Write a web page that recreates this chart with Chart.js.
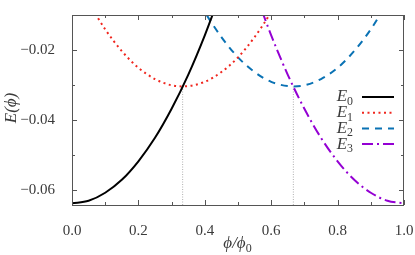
<!DOCTYPE html>
<html>
<head>
<meta charset="utf-8">
<script src="https://cdn.jsdelivr.net/npm/chart.js@4.4.1/dist/chart.umd.min.js"></script>
<style>
  html, body { margin: 0; padding: 0; background: #fff; }
  #wrap { width: 415px; height: 255px; }
</style>
</head>
<body>
<div id="wrap"><canvas id="chart"></canvas></div>
<script>
// values
const phiE0 = [0, 0.05, 0.1, 0.15, 0.2, 0.25, 0.3, 0.35, 0.4, 0.45];
const valE0 = [-0.0638, -0.0631, -0.0608, -0.0571, -0.0518, -0.0451, -0.0368, -0.0271, -0.0158, -0.0031];

const phiE1 = [0, 0.05, 0.1, 0.15, 0.2, 0.25, 0.3, 0.3333, 0.4, 0.45, 0.5, 0.55, 0.6, 0.65];
const valE1 = [0.0029, -0.0063, -0.0141, -0.0203, -0.0251, -0.0283, -0.0301, -0.0304, -0.0291, -0.0263, -0.0221, -0.0163, -0.0091, -0.0003];

const phiE2 = [0.35, 0.4, 0.45, 0.5, 0.55, 0.6, 0.6667, 0.7, 0.75, 0.8, 0.85, 0.9, 0.95, 1.0];
const valE2 = [-0.0003, -0.0091, -0.0163, -0.0221, -0.0263, -0.0291, -0.0304, -0.0301, -0.0283, -0.0251, -0.0203, -0.0141, -0.0063, 0.0029];

const phiE3 = [0.55, 0.6, 0.65, 0.7, 0.75, 0.8, 0.85, 0.9, 0.95, 1.0];
const valE3 = [-0.0031, -0.0158, -0.0271, -0.0368, -0.0451, -0.0518, -0.0571, -0.0608, -0.0631, -0.0638];

const crossPhi = [0.3333, 0.6667];
const crossVal = [-0.0304, -0.0304];

const seriesNames = ['E0', 'E1', 'E2', 'E3'];
const xMajor = [0, 0.2, 0.4, 0.6, 0.8, 1.0];
const xMinor = [0.1, 0.3, 0.5, 0.7, 0.9];
const yMajor = [-0.06, -0.04, -0.02];
const yMinor = [-0.05, -0.03, -0.01];

const yMin = -0.0643;
const yMax = -0.01;

const colors = ['#000000', '#f0261e', '#0a72b4', '#9400d3'];
const dashes = [[], [2, 3.5], [7, 6], [11, 4, 2, 4]];

const FONT = "'Liberation Serif', 'DejaVu Serif', serif";
const textColor = '#3a3a3a';

function pts(xs, ys) {
    return xs.map((x, i) => ({ x: x, y: ys[i] }));
}

const datasets = [
    [phiE0, valE0], [phiE1, valE1], [phiE2, valE2], [phiE3, valE3]
].map((d, i) => ({
    label: seriesNames[i],
    data: pts(d[0], d[1]),
    borderColor: colors[i],
    borderWidth: 2,
    borderDash: dashes[i],
    pointRadius: 0,
    fill: false,
    cubicInterpolationMode: 'monotone'
}));

crossPhi.forEach((p, i) => {
    datasets.push({
        label: 'guide' + i,
        data: [{ x: p, y: yMin }, { x: p, y: crossVal[i] }],
        borderColor: '#b0b0b0',
        borderWidth: 1,
        borderDash: [1, 1.5],
        pointRadius: 0
    });
});

function fmt(v) {
    let s = Math.abs(v).toFixed(xMajor.includes(v) ? 1 : 2);
    return (v < 0 ? '\u2212' : '') + s;
}

// italic letter with a small upright subscript
function drawSubLabel(ctx, base, sub, xRight, y, size) {
    ctx.font = 'italic ' + size + 'px ' + FONT;
    const wb = ctx.measureText(base).width;
    ctx.font = (size * 0.7) + 'px ' + FONT;
    const ws = ctx.measureText(sub).width;
    const x0 = xRight - wb - ws;
    ctx.textBaseline = 'middle';
    ctx.textAlign = 'left';
    ctx.font = 'italic ' + size + 'px ' + FONT;
    ctx.fillText(base, x0, y);
    ctx.font = (size * 0.7) + 'px ' + FONT;
    ctx.fillText(sub, x0 + wb, y + size * 0.28);
}

function noPad(s) {
    s.paddingLeft = 0; s.paddingRight = 0;
    s.paddingTop = 0; s.paddingBottom = 0;
}

const decor = {
    id: 'decor',
    afterDatasetsDraw(chart) {
        const ctx = chart.ctx;
        const a = chart.chartArea;
        const xs = chart.scales.x, ys = chart.scales.y;
        ctx.save();

        // frame
        ctx.strokeStyle = '#555';
        ctx.lineWidth = 1;
        ctx.strokeRect(a.left + 0.5, a.top + 0.5, a.right - a.left - 1, a.bottom - a.top);

        // inward ticks on all four sides
        ctx.beginPath();
        const tick = (vals, len) => {
            vals.forEach(v => {
                const px = Math.round(xs.getPixelForValue(v)) + 0.5;
                ctx.moveTo(px, a.bottom); ctx.lineTo(px, a.bottom - len);
                ctx.moveTo(px, a.top); ctx.lineTo(px, a.top + len);
            });
        };
        const ytick = (vals, len) => {
            vals.forEach(v => {
                const py = Math.round(ys.getPixelForValue(v)) + 0.5;
                ctx.moveTo(a.left, py); ctx.lineTo(a.left + len, py);
                ctx.moveTo(a.right, py); ctx.lineTo(a.right - len, py);
            });
        };
        tick(xMajor, 5); tick(xMinor, 3);
        ytick(yMajor, 5); ytick(yMinor, 3);
        ctx.stroke();

        // legend
        ctx.fillStyle = textColor;
        const lx = a.right - 51, ly = a.top + 82, step = 15.7;
        seriesNames.forEach((n, i) => {
            const y = ly + i * step;
            drawSubLabel(ctx, 'E', n.slice(1), lx, y, 17);
            ctx.beginPath();
            ctx.strokeStyle = colors[i];
            ctx.lineWidth = 2;
            ctx.setLineDash(dashes[i]);
            ctx.moveTo(lx + 9, y);
            ctx.lineTo(lx + 41, y);
            ctx.stroke();
            ctx.setLineDash([]);
        });

        // axis titles
        ctx.fillStyle = textColor;
        ctx.textBaseline = 'middle';
        ctx.save();
        ctx.translate(12, 108);
        ctx.rotate(-Math.PI / 2);
        ctx.textAlign = 'center';
        ctx.font = 'italic 17px ' + FONT;
        ctx.fillText('E(\u03D5)', 0, 0);
        ctx.restore();

        ctx.font = 'italic 17px ' + FONT;
        ctx.textAlign = 'left';
        const t = '\u03D5/\u03D5';
        const tw = ctx.measureText(t).width;
        const tx = 238 - (tw + 7) / 2;
        ctx.fillText(t, tx, 244);
        ctx.font = '12px ' + FONT;
        ctx.fillText('0', tx + tw, 249);

        ctx.restore();
    }
};

new Chart(document.getElementById('chart'), {
    type: 'line',
    data: { datasets: datasets },
    options: {
        responsive: true,
        maintainAspectRatio: false,
        animation: false,
        layout: { padding: { top: 15, right: 11, left: 0, bottom: 0 } },
        plugins: { legend: { display: false }, tooltip: { enabled: false } },
        scales: {
            x: {
                type: 'linear',
                min: 0, max: 1,
                grid: { display: false },
                border: { display: false },
                afterBuildTicks: s => { s.ticks = xMajor.map(v => ({ value: v })); },
                afterFit: s => { s.height = 50; noPad(s); },
                ticks: {
                    padding: 9,
                    color: textColor,
                    font: { family: FONT, size: 15 },
                    callback: v => fmt(v),
                    maxRotation: 0
                }
            },
            y: {
                type: 'linear',
                min: yMin, max: yMax,
                grid: { display: false },
                border: { display: false },
                afterBuildTicks: s => { s.ticks = yMajor.map(v => ({ value: v })); },
                afterFit: s => { s.width = 72; noPad(s); },
                ticks: {
                    padding: 9,
                    color: textColor,
                    font: { family: FONT, size: 15 },
                    callback: v => fmt(v)
                }
            }
        }
    },
    plugins: [decor]
});
</script>
</body>
</html>
